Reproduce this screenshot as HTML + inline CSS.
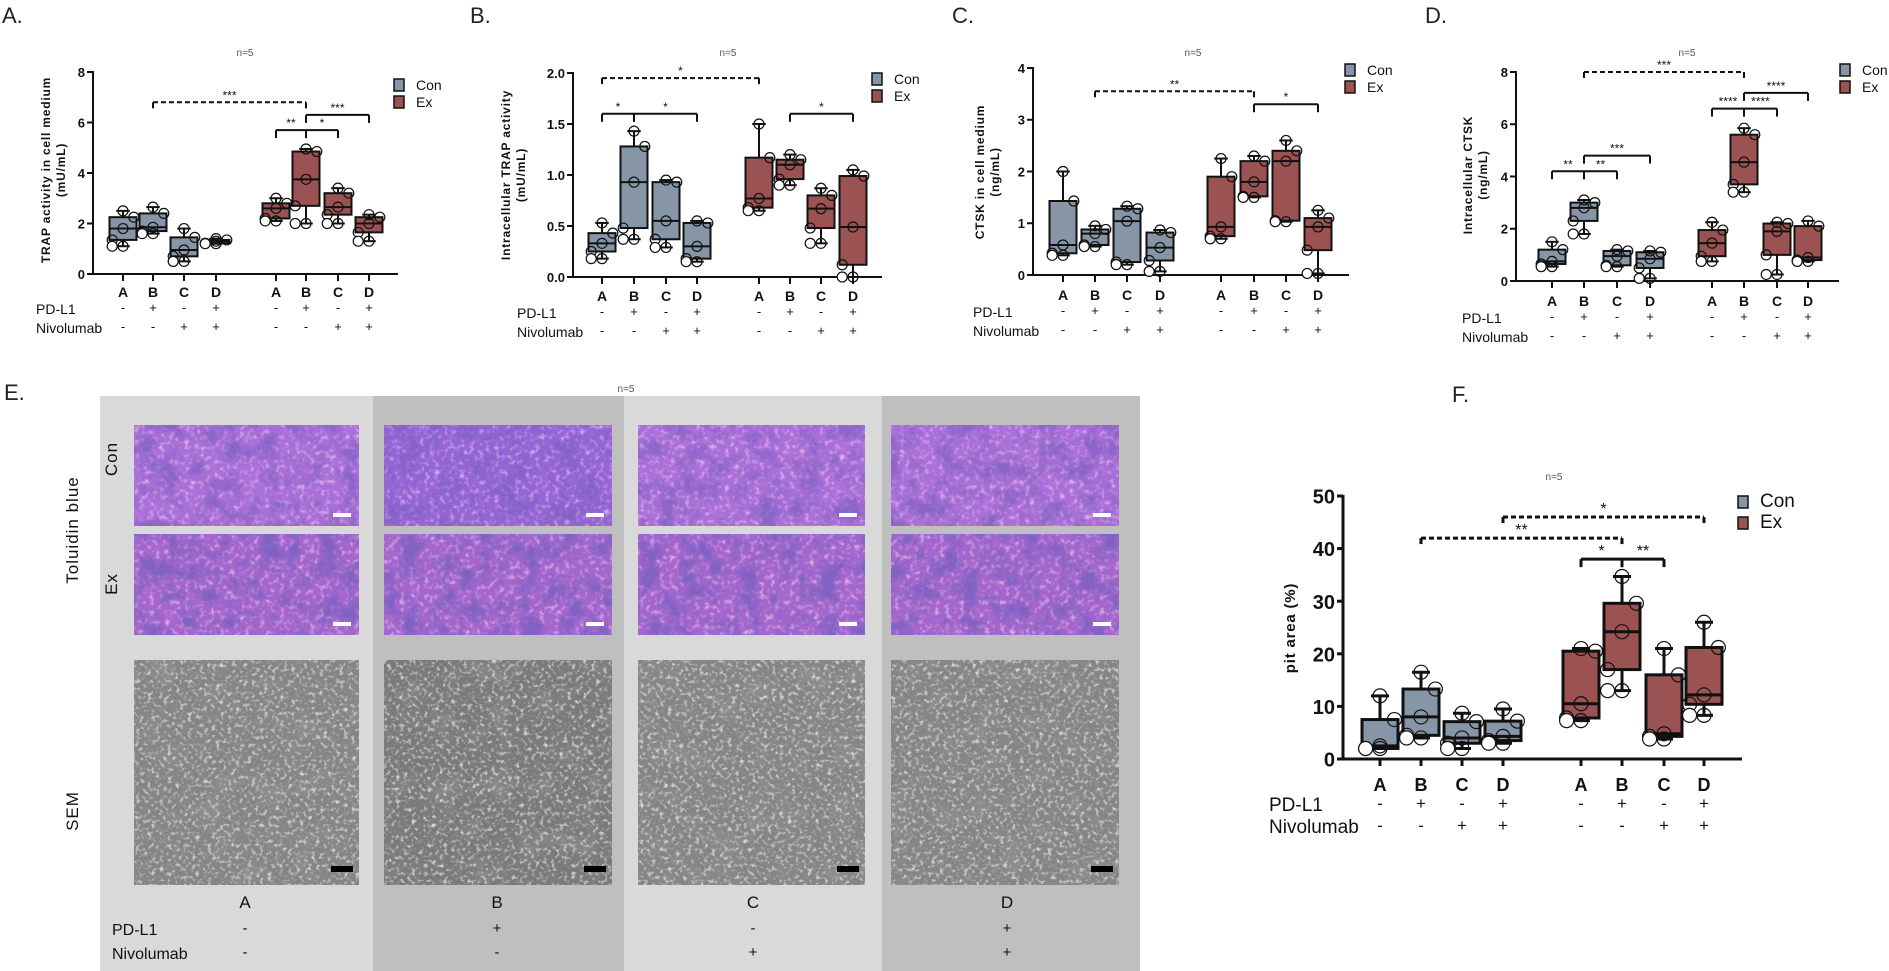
<!DOCTYPE html>
<html><head><meta charset="utf-8">
<style>
html,body{margin:0;padding:0;background:#fff;}
svg{display:block;font-family:"Liberation Sans",sans-serif;}
</style></head><body>
<svg id="s" width="1889" height="971" viewBox="0 0 1889 971" xmlns="http://www.w3.org/2000/svg">
<defs>
<filter id="tex" x="0" y="0" width="100%" height="100%">
<feTurbulence type="fractalNoise" baseFrequency="0.05" numOctaves="4" seed="3"/>
<feColorMatrix type="matrix" values="0 0 0 0 0.22  0 0 0 0 0.12  0 0 0 0 0.55  3.2 0 0 0 -1.35"/>
</filter>
<filter id="tex2" x="0" y="0" width="100%" height="100%">
<feTurbulence type="fractalNoise" baseFrequency="0.2" numOctaves="2" seed="11"/>
<feColorMatrix type="matrix" values="0 0 0 0 1  0 0 0 0 0.7  0 0 0 0 0.95  0 3 0 0 -1.5"/>
</filter>
<filter id="sem" x="0" y="0" width="100%" height="100%">
<feTurbulence type="fractalNoise" baseFrequency="0.25" numOctaves="3" seed="7"/>
<feColorMatrix type="matrix" values="0 0 0 0 0.95  0 0 0 0 0.95  0 0 0 0 0.95  3 0 0 0 -1.55"/>
</filter>
<filter id="sem2" x="0" y="0" width="100%" height="100%">
<feTurbulence type="fractalNoise" baseFrequency="0.035" numOctaves="3" seed="5"/>
<feColorMatrix type="matrix" values="0 0 0 0 0.3  0 0 0 0 0.3  0 0 0 0 0.3  2.5 0 0 0 -1.2"/>
</filter>
</defs>
<g id="g"></g>
</svg>
<script>
var S='';
function t(x,y,s,o){o=o||{};S+='<text x="'+x+'" y="'+y+'" font-size="'+(o.fs||12)+'" fill="'+(o.c||'#111')+'"'+(o.b?' font-weight="bold"':'')+' text-anchor="'+(o.a||'middle')+'"'+(o.r?' transform="rotate(-90 '+x+' '+y+')"':'')+(o.ls?' letter-spacing="'+o.ls+'"':'')+'>'+s+'</text>';}
function l(x1,y1,x2,y2,w,d,c){S+='<line x1="'+x1+'" y1="'+y1+'" x2="'+x2+'" y2="'+y2+'" stroke="'+(c||'#111')+'" stroke-width="'+(w||1.5)+'"'+(d?' stroke-dasharray="'+d+'"':'')+'/>';}
var CON='#8696a7',EX='#9a5252';
function panel(P){
  var y=function(v){return P.y0-(v/P.ymax)*(P.y0-P.yt);};
  var lw=P.lw||2;
  l(P.ax,P.yt-1,P.ax,P.y0,lw);l(P.ax,P.y0,P.ae,P.y0,lw);
  P.ticks.forEach(function(v){l(P.ax-6,y(v),P.ax,y(v),lw);t(P.ax-8,y(v)+P.tf*0.38,v,{fs:P.tf,a:'end',b:1});});
  P.cx.forEach(function(x,i){l(x,P.y0,x,P.y0+7,lw);t(x,P.ly,'ABCD'[i%4],{fs:P.cf,b:1});
    t(x,P.ly+P.r1,(i%2?'+':'-'),{fs:P.pf});t(x,P.ly+P.r2,(i>=4?[0,0,1,1][i-4]:[0,0,1,1][i])?'+':'-',{fs:P.pf});});
  t(P.lx,P.ly+P.r1+2,'PD-L1',{fs:P.lf,a:'start'});t(P.lx,P.ly+P.r2+2,'Nivolumab',{fs:P.lf,a:'start'});
  var bw=P.bw;
  P.d.forEach(function(b,i){var x=P.cx[i],c=i<4?CON:EX;
    l(x,y(b[0]),x,y(b[4]),lw);l(x-bw*0.25,y(b[4]),x+bw*0.25,y(b[4]),lw);l(x-bw*0.25,y(b[0]),x+bw*0.25,y(b[0]),lw);
    S+='<rect x="'+(x-bw/2)+'" y="'+y(b[3])+'" width="'+bw+'" height="'+(y(b[1])-y(b[3]))+'" fill="'+c+'" stroke="#111" stroke-width="'+lw+'"/>';
    l(x-bw/2,y(b[2]),x+bw/2,y(b[2]),lw);
    var off=[0,-bw*0.4,0,bw*0.4,0];
    b.forEach(function(v,k){S+='<circle cx="'+(x+off[k])+'" cy="'+y(v)+'" r="'+P.pr+'" fill="none" stroke="#111" stroke-width="1.2"/>';});
    S+='<circle cx="'+(x-bw*0.4)+'" cy="'+y(b[0])+'" r="'+P.pr+'" fill="#fff" stroke="#111" stroke-width="1.2"/>';
  });
  P.sig.forEach(function(s){var x1=P.cx[s[0]],x2=P.cx[s[1]],yy=y(s[2]);
    if(s[4]){l(x1,yy,x2,yy,lw,'5,3');l(x1,yy,x1,yy+6,lw);l(x2,yy,x2,yy+6,lw);}
    else{l(x1,yy,x2,yy,lw);l(x1,yy,x1,yy+8,lw);l(x2,yy,x2,yy+8,lw);}
    t((x1+x2)/2,yy-3,s[3],{fs:P.sf});});
  S+='<rect x="'+P.lgx+'" y="'+(P.lgy-6)+'" width="10" height="12" fill="'+CON+'" stroke="#111" stroke-width="1.5"/>';
  S+='<rect x="'+P.lgx+'" y="'+(P.lgy+P.lgd-6)+'" width="10" height="12" fill="'+EX+'" stroke="#111" stroke-width="1.5"/>';
  t(P.lgx+22,P.lgy+5,'Con',{fs:P.lgf,a:'start'});t(P.lgx+22,P.lgy+P.lgd+5,'Ex',{fs:P.lgf,a:'start'});
  t(P.nx,P.ny,'n=5',{fs:10,c:'#555'});
  t(P.tx,P.ty,P.title[0],{fs:P.ttf,b:1,r:1,ls:0.8});
  if(P.title[1])t(P.tx+15,P.ty,P.title[1],{fs:P.ttf,b:1,r:1,ls:0.8});
}
var base={tf:13,cf:14,pf:13,lf:14,r1:15,r2:34,bw:27,pr:5,sf:12,lgf:14,lgd:17,ttf:12,lw:2};
function mk(o){var r={};for(var k in base)r[k]=base[k];for(k in o)r[k]=o[k];return r;}
panel(mk({ax:93,ae:398,y0:274,yt:72,ymax:8,ticks:[0,2,4,6,8],cx:[123,153,184,216,276,306,338,369],ly:297,lx:36,
 d:[[1.1,1.35,1.8,2.25,2.5],[1.6,1.7,1.85,2.4,2.65],[0.5,0.7,0.95,1.45,1.8],[1.2,1.22,1.3,1.35,1.4],[2.1,2.2,2.6,2.8,3.0],[2.0,2.7,3.75,4.85,4.95],[2.0,2.35,2.65,3.2,3.4],[1.3,1.65,2.0,2.25,2.35]],
 sig:[[1,5,6.8,'***',1],[4,5,5.7,'**'],[5,6,5.7,'*'],[5,7,6.3,'***']],lgx:394,lgy:85,nx:245,ny:56,tx:50,ty:170,title:['TRAP activity in cell medium','(mU/mL)']}));
panel(mk({ax:573,ae:882,y0:277,yt:73,ymax:2,ticks:['0.0','0.5','1.0','1.5','2.0'],cx:[602,634,666,697,759,790,821,853],ly:301,lx:517,
 d:[[.18,.25,.33,.43,.53],[.37,.48,.93,1.28,1.43],[.29,.37,.55,.93,.95],[.15,.18,.3,.53,.55],[.65,.68,.77,1.17,1.5],[.9,.96,1.1,1.15,1.2],[.33,.48,.67,.8,.87],[0,.12,.49,.99,1.05]],
 sig:[[0,4,1.95,'*',1],[0,1,1.6,'*'],[1,3,1.6,'*'],[5,7,1.6,'*']],lgx:872,lgy:79,nx:728,ny:56,tx:510,ty:175,title:['Intracellular TRAP activity','(mU/mL)']}));
panel(mk({ax:1033,ae:1349,y0:275,yt:68,ymax:4,ticks:[0,1,2,3,4],cx:[1063,1095,1127,1160,1221,1254,1286,1318],ly:300,lx:973,
 d:[[.38,.42,.58,1.43,2.0],[.55,.58,.8,.88,.95],[.2,.25,1.04,1.28,1.33],[.07,.28,.53,.82,.87],[.7,.75,.93,1.9,2.25],[1.5,1.52,1.8,2.2,2.3],[1.03,1.05,2.2,2.4,2.6],[.03,.48,.93,1.1,1.25]],
 sig:[[1,5,3.55,'**',1],[5,7,3.3,'*']],lgx:1345,lgy:70,nx:1193,ny:56,tx:984,ty:172,title:['CTSK in cell medium','(ng/mL)']}));
panel(mk({ax:1516,ae:1839,y0:281,yt:72,ymax:8,ticks:[0,2,4,6,8],cx:[1552,1584,1617,1650,1712,1744,1777,1808],ly:306,lx:1462,
 d:[[.55,.65,.75,1.2,1.5],[1.8,2.3,2.8,3.0,3.1],[.55,.6,.95,1.15,1.2],[.1,.5,.85,1.1,1.15],[.75,.95,1.45,1.95,2.25],[3.4,3.7,4.55,5.6,5.85],[.25,1.0,1.9,2.2,2.25],[.75,.8,.9,2.1,2.3]],
 sig:[[1,5,8.0,'***',1],[0,1,4.2,'**'],[1,2,4.2,'**'],[1,3,4.8,'***'],[4,5,6.6,'****'],[5,6,6.6,'****'],[5,7,7.2,'****']],lgx:1840,lgy:70,nx:1687,ny:56,tx:1472,ty:175,title:['Intracellular CTSK','(ng/mL)']}));
panel(mk({ax:1343,ae:1742,y0:759,yt:496,ymax:50,ticks:[0,10,20,30,40,50],tf:20,cx:[1380,1421,1462,1503,1581,1622,1664,1704],ly:791,cf:18,pf:17,lf:19,r1:18,r2:40,lx:1269,bw:36,pr:7,sf:16,lgf:19,lgd:21,lw:3,
 d:[[2,2,2.5,7.5,12],[4,4.5,8,13.3,16.5],[2,3,4,7.1,8.7],[3,3.5,4.3,7.2,9.5],[7.3,7.8,10.5,20.5,21],[13,17,24.2,29.6,34.7],[3.8,4.3,4.8,16,21],[8.3,10.4,12.2,21.2,26]],
 sig:[[1,5,42,'**',1],[3,7,46,'*',1],[4,5,38,'*'],[5,6,38,'**']],lgx:1738,lgy:502,nx:1554,ny:480,tx:1295,ty:628,ttf:15,title:['pit area (%)']}));
[['A.',2,23],['B.',470,23],['C.',952,23],['D.',1425,23],['E.',4,400],['F.',1452,402]].forEach(function(a){t(a[1],a[2],a[0],{fs:22,a:'start',c:'#222'});});
var cols=[[100,373,'#d9d9d9'],[373,624,'#bfbfbf'],[624,882,'#d9d9d9'],[882,1140,'#bfbfbf']];
cols.forEach(function(c){S+='<rect x="'+c[0]+'" y="396" width="'+(c[1]-c[0])+'" height="575" fill="'+c[2]+'"/>';});
t(626,392,'n=5',{fs:10,c:'#555'});
var ix=[[134,359],[384,612],[638,865],[891,1119]];
ix.forEach(function(p,i){var w=p[1]-p[0];
  [[425,101,i==1?'#9565d6':'#aa6fd8'],[534,101,'#a466cc']].forEach(function(r,j){
    S+='<rect x="'+p[0]+'" y="'+r[0]+'" width="'+w+'" height="'+r[1]+'" fill="'+r[2]+'"/>';
    S+='<rect x="'+p[0]+'" y="'+r[0]+'" width="'+w+'" height="'+r[1]+'" fill="#fff" filter="url(#tex2)" opacity="0.6"/>';
    S+='<rect x="'+p[0]+'" y="'+r[0]+'" width="'+w+'" height="'+r[1]+'" fill="#fff" filter="url(#tex)" opacity="'+(j?1:0.75)+'"/>';
    S+='<rect x="'+(p[1]-26)+'" y="'+(r[0]+r[1]-13)+'" width="18" height="4" fill="#fff"/>';});
  S+='<rect x="'+p[0]+'" y="660" width="'+w+'" height="225" fill="'+(i==1?'#7a7a7a':'#858585')+'"/>';
  S+='<rect x="'+p[0]+'" y="660" width="'+w+'" height="225" fill="#fff" filter="url(#sem2)" opacity="0.6"/>';
  S+='<rect x="'+p[0]+'" y="660" width="'+w+'" height="225" fill="#fff" filter="url(#sem)" opacity="0.8"/>';
  S+='<rect x="'+(p[1]-28)+'" y="866" width="22" height="6" fill="#000"/>';
});
t(78,530,'Toluidin blue',{fs:17,r:1,ls:1});t(117,459,'Con',{fs:17,r:1,ls:1});t(117,584,'Ex',{fs:17,r:1,ls:1});t(78,811,'SEM',{fs:17,r:1,ls:1});
[['A',245,'-','-'],['B',497,'+','-'],['C',753,'-','+'],['D',1007,'+','+']].forEach(function(a){t(a[1],908,a[0],{fs:17});t(a[1],933,a[2],{fs:15});t(a[1],957,a[3],{fs:15});});
t(112,935,'PD-L1',{fs:16,a:'start'});t(112,959,'Nivolumab',{fs:16,a:'start'});
document.getElementById('g').innerHTML=S;
</script>
</body></html>
